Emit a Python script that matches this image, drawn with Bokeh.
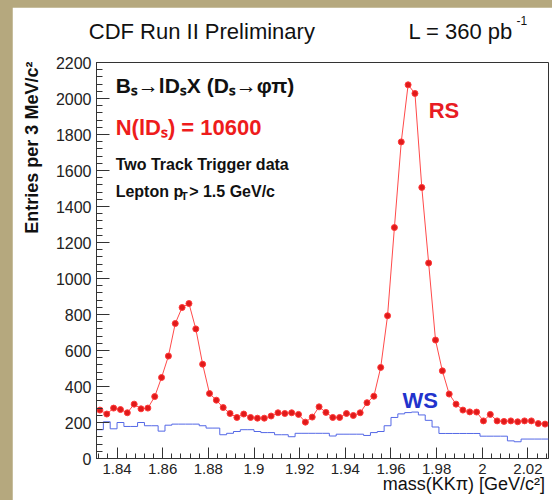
import numpy as np
from math import pi
from bokeh.plotting import figure
from bokeh.models import FixedTicker, Label, CustomJSTickFormatter, Spacer
from bokeh.layouts import column, row
from bokeh.embed import file_html
from bokeh.resources import INLINE

# ---------------- data ----------------
bin_lo = 1.831          # GeV/c^2, lower edge of first bin
bin_width = 0.003       # 3 MeV/c^2
n_bins = 66

# Right-sign (RS) entries per bin (points)
rs_counts = [269, 247, 280, 272, 254, 302, 276, 280, 344, 450,
             569, 750, 839, 861, 720, 524, 361, 324, 283, 250,
             228, 247, 228, 224, 224, 236, 254, 250, 254, 245,
             202, 230, 287, 256, 228, 228, 250, 239, 254, 310,
             346, 506, 793, 1283, 1759, 2076, 2028, 1506, 1086, 658,
             487, 358, 302, 269, 259, 258, 209, 245, 209, 206,
             209, 204, 209, 209, 194, 191]

# Wrong-sign (WS) entries per bin (histogram)
ws_counts = [160, 204, 165, 200, 178, 178, 200, 182, 182, 152,
             185, 191, 191, 191, 191, 182, 169, 169, 132, 140,
             150, 160, 160, 150, 144, 144, 132, 132, 121, 140,
             140, 140, 140, 140, 125, 135, 135, 135, 135, 128,
             144, 150, 182, 228, 248, 255, 258, 242, 212, 175,
             139, 139, 139, 139, 139, 139, 124, 124, 124, 124,
             98, 93, 108, 108, 108, 108]

x_ticks = [1.84, 1.86, 1.88, 1.9, 1.92, 1.94, 1.96, 1.98, 2.0, 2.02]
x_tick_labels = ["1.84", "1.86", "1.88", "1.9", "1.92", "1.94", "1.96", "1.98", "2", "2.02"]
y_ticks = [0, 200, 400, 600, 800, 1000, 1200, 1400, 1600, 1800, 2000, 2200]

edges = [bin_lo + bin_width * i for i in range(n_bins + 1)]
centers = [bin_lo + bin_width * (i + 0.5) for i in range(n_bins)]

# ---------------- figure ----------------
FONT = "Liberation Sans"
p = figure(width=546, height=500, x_range=(1.831, 2.029), y_range=(0, 2200),
           output_backend="svg", toolbar_location=None, title=None,
           min_border_left=84, min_border_right=10, min_border_top=55, min_border_bottom=49,
           background_fill_color="white", border_fill_color="white")
p.grid.visible = False
p.outline_line_color = "#333333"
p.outline_line_width = 1

# histogram (WS)
p.step(edges, ws_counts + [ws_counts[-1]], mode="after", line_color="#5468e6", line_width=1)
# RS line and points
p.line(centers, rs_counts, line_color="#ff4a4a", line_width=1)
p.scatter(centers, rs_counts, size=6, marker="circle", fill_color="#e01a1a", line_color="#ff3a3a")

# axes
for ax in (p.xaxis[0], p.yaxis[0]):
    ax.axis_line_color = "#333333"
    ax.major_tick_line_color = "#333333"
    ax.minor_tick_line_color = "#333333"
    ax.major_tick_out = 0
    ax.minor_tick_out = 0
    ax.major_label_text_font = FONT
    ax.major_label_text_color = "#222222"
    ax.major_label_standoff = 5
p.xaxis.major_label_text_font_size = "15px"
p.yaxis.major_label_text_font_size = "16px"

p.xaxis.ticker = FixedTicker(ticks=x_ticks,
                             minor_ticks=list(np.round(np.arange(1.832, 2.029, 0.004), 4)))
p.xaxis.formatter = CustomJSTickFormatter(args=dict(vals=x_ticks, labs=x_tick_labels),
                                          code="const i = vals.indexOf(tick); return i >= 0 ? labs[i] : String(tick);")
p.xaxis.major_tick_in = 11
p.xaxis.minor_tick_in = 5

p.yaxis.ticker = FixedTicker(ticks=y_ticks, minor_ticks=list(range(0, 2201, 40)))
p.yaxis.major_tick_in = 13
p.yaxis.minor_tick_in = 6

def lab(x, y, text, size, color="black", bold=False, align="left", angle=0.0, place="center"):
    L = Label(x=x, y=y, text=text, text_font=FONT, text_font_size=size,
              text_color=color, text_font_style="bold" if bold else "normal",
              text_align=align, text_baseline="middle", angle=angle)
    p.add_layout(L, place)

# header texts and axis titles (outside frame, data units, placed in side panels)
lab(1.8276, 2370, "CDF Run II Preliminary", "22px", "#111111", place="above")
lab(1.9677, 2370, "L = 360 pb", "22px", "#111111", place="above")
lab(2.0150, 2435, "-1", "12px", "#111111", place="left")
lab(1.8027, 2205, "Entries per 3 MeV/c²", "18px", "#111111", bold=True, align="right",
    angle=pi / 2, place="left")
lab(2.0275, -140, "mass(KKπ) [GeV/c²]", "18px", "#111111", align="right", place="below")

# in-frame annotations
lab(1.8394, 2075, "Bₛ→lDₛX (Dₛ→φπ)", "21px", "#111111", bold=True)
lab(1.8394, 1837, "N(lDₛ) = 10600", "22px", "#ee1c1c", bold=True)
lab(1.8394, 1631, "Two Track Trigger data", "16px", "#111111", bold=True)
lab(1.8394, 1481, "Lepton p", "16px", "#111111", bold=True)
lab(1.8680, 1458, "T", "11px", "#111111", bold=True)
lab(1.8716, 1481, "> 1.5 GeV/c", "16px", "#111111", bold=True)
lab(1.9765, 1935, "RS", "22px", "#e81c24", bold=True)
lab(1.9650, 320, "WS", "22px", "#2233cc", bold=True)

layout = row(Spacer(width=12, height=507),
             column(Spacer(width=546, height=7), p),
             styles={"background-color": "#b5a87e"})
open("out.html", "w").write(file_html(layout, INLINE))
